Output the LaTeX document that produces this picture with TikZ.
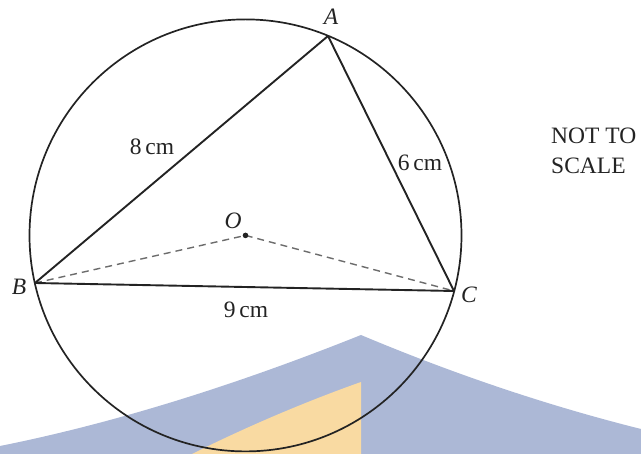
\documentclass[tikz,border=0pt]{standalone}
\usepackage{fontspec}
\setmainfont{Liberation Serif}
\definecolor{wmblue}{RGB}{172,184,214}
\definecolor{wmorange}{RGB}{249,218,162}
\definecolor{ink}{RGB}{35,35,35}
\begin{document}
\begin{tikzpicture}[x=1pt,y=-1pt,
  lbl/.style={font=\fontsize{23.5}{25}\selectfont, inner sep=0pt, text=ink},
  side/.style={line width=1.9pt, ink},
  rad/.style={dash pattern=on 7pt off 5pt, line width=1.4pt, gray!85!black},
  rim/.style={line width=1.7pt, ink}]
\useasboundingbox (0,0) rectangle (641,454);
% watermark
\fill[wmblue] (0,446) .. controls (111.3,423.7) and (231.7,386.7) .. (361,335)
  .. controls (455,374.5) and (548.3,405.8) .. (641,429) -- (641,454) -- (0,454) -- cycle;
\fill[wmorange] (361,382) -- (361,454) -- (192,454) .. controls (250,425) and (310,400) .. (361,382) -- cycle;
% geometry
\coordinate (O) at (245.5,235.4);
\coordinate (A) at (328,36);
\coordinate (B) at (35,283);
\coordinate (C) at (454,291);
\draw[rim] (O) circle[radius=216pt];
\draw[rad] (B) -- (O) -- (C);
\draw[side, line join=round] (A) -- (B) -- (C) -- cycle;
\fill[ink] (O) circle[radius=2.8pt];
% labels
\node[lbl] (lA) at (331,17) {\textit{A}};
\node[lbl] (lB) at (19,287) {\textit{B}};
\node[lbl] (lC) at (469,295) {\textit{C}};
\node[lbl] (lO) at (233,221) {\textit{O}};
\node[lbl] (l8) at (152,147) {8\,cm};
\node[lbl] (l6) at (420,163) {6\,cm};
\node[lbl] (l9) at (246,310) {9\,cm};
\node[lbl, align=left, anchor=west, font=\fontsize{23.5}{30}\selectfont] (ns) at (551,151) {NOT TO\\SCALE};
\end{tikzpicture}
\end{document}
